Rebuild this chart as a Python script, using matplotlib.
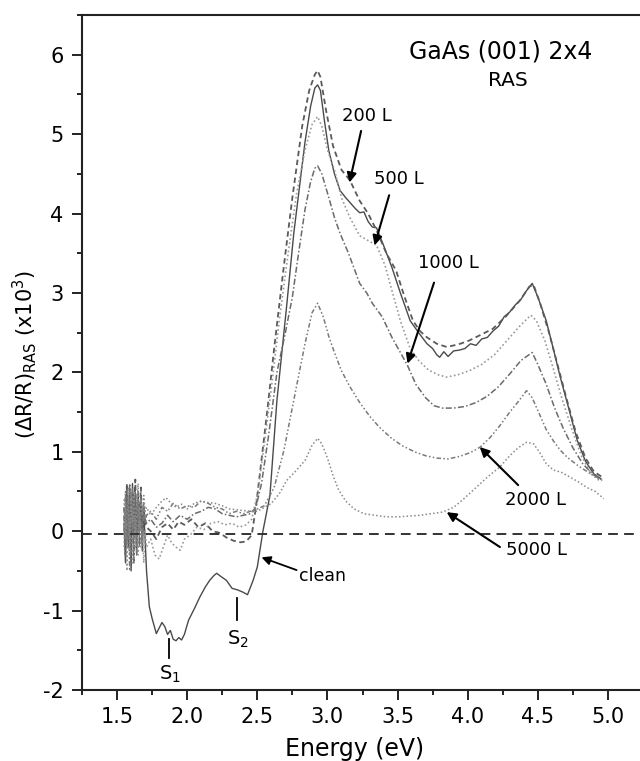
import matplotlib
matplotlib.use("Agg")
import matplotlib.pyplot as plt
from matplotlib.ticker import MultipleLocator, FormatStrFormatter

plt.rcParams['font.family'] = ['DejaVu Sans']
plt.rcParams['mathtext.default'] = 'regular'
plt.rcParams['axes.unicode_minus'] = False

# ---------------- data ----------------
noise_e = [1.55, 1.56, 1.57, 1.58, 1.59, 1.60, 1.61, 1.62, 1.63, 1.64,
           1.65, 1.66, 1.67, 1.68, 1.69, 1.70, 1.71]

clean_e = noise_e + [1.73, 1.75, 1.78, 1.80, 1.82, 1.84, 1.86, 1.88, 1.90, 1.92,
                     1.94, 1.96, 1.98, 2.01, 2.05, 2.09, 2.13, 2.16, 2.19, 2.21,
                     2.24, 2.28, 2.32, 2.36, 2.40, 2.43, 2.47, 2.50, 2.54, 2.59,
                     2.64, 2.71, 2.76, 2.84, 2.88, 2.91, 2.93, 2.95, 2.98, 3.01,
                     3.05, 3.09, 3.13, 3.17, 3.20, 3.23, 3.26, 3.29, 3.32, 3.35,
                     3.40, 3.46, 3.52, 3.59, 3.65, 3.71, 3.75, 3.78, 3.80, 3.83,
                     3.86, 3.90, 3.94, 3.98, 4.02, 4.06, 4.10, 4.14, 4.18, 4.22,
                     4.26, 4.30, 4.34, 4.38, 4.42, 4.46, 4.50, 4.56, 4.61, 4.66,
                     4.72, 4.78, 4.84, 4.90, 4.95]
clean_v = [0.1, -0.4, 0.5, -0.2, 0.35, -0.5, 0.6, 0.0, 0.45, -0.3,
           0.5, 0.05, 0.35, -0.25, 0.25, -0.1, -0.5,
           -0.95, -1.1, -1.29, -1.22, -1.15, -1.2, -1.3, -1.25, -1.36, -1.38,
           -1.34, -1.37, -1.3, -1.12, -0.98, -0.83, -0.7, -0.62, -0.56, -0.53,
           -0.57, -0.62, -0.72, -0.74, -0.77, -0.8, -0.62, -0.45, 0.0, 0.45,
           1.65, 2.85, 3.75, 4.9, 5.35, 5.58, 5.62, 5.55, 5.15, 4.79,
           4.5, 4.29, 4.2, 4.12, 4.06, 4.01, 4.02, 3.9, 3.83, 3.82,
           3.6, 3.32, 3.0, 2.65, 2.5, 2.36, 2.3, 2.22, 2.19, 2.26,
           2.2, 2.27, 2.28, 2.3, 2.36, 2.34, 2.42, 2.44, 2.52, 2.58,
           2.7, 2.76, 2.85, 2.92, 3.03, 3.12, 2.95, 2.65, 2.3, 1.94,
           1.55, 1.15, 0.88, 0.72, 0.66]

l200_e = noise_e + [1.74, 1.78, 1.82, 1.86, 1.90, 1.94, 1.98, 2.03, 2.08, 2.13,
                    2.18, 2.23, 2.28, 2.33, 2.38, 2.42, 2.46, 2.49, 2.52, 2.57,
                    2.62, 2.69, 2.75, 2.82, 2.87, 2.91, 2.93, 2.95, 2.99, 3.04,
                    3.10, 3.16, 3.23, 3.29, 3.35, 3.42, 3.49, 3.55, 3.61, 3.66,
                    3.71, 3.78, 3.85, 3.93, 4.01, 4.09, 4.18, 4.27, 4.37, 4.44,
                    4.47, 4.52, 4.58, 4.64, 4.70, 4.77, 4.84, 4.90, 4.96]
l200_v = [0.3, -0.1, 0.6, 0.1, 0.45, -0.3, 0.5, 0.2, 0.65, -0.1,
          0.4, 0.15, 0.55, 0.0, 0.3, 0.1, 0.05,
          0.0, -0.1, 0.05, 0.1, 0.02, 0.12, 0.08, 0.15, 0.05, 0.1,
          0.0, -0.02, -0.08, -0.12, -0.14, -0.13, -0.05, 0.3, 0.75, 1.5,
          2.3, 3.35, 4.2, 5.1, 5.55, 5.75, 5.8, 5.72, 5.3, 4.85,
          4.55, 4.42, 4.16, 4.0, 3.79, 3.5, 3.28, 2.95, 2.65, 2.52,
          2.44, 2.36, 2.32, 2.35, 2.4, 2.47, 2.55, 2.7, 2.9, 3.08,
          3.1, 2.85, 2.5, 2.1, 1.7, 1.25, 0.92, 0.75, 0.68]

l500_e = noise_e + [1.74, 1.77, 1.80, 1.83, 1.86, 1.89, 1.92, 1.95, 1.98, 2.02,
                    2.07, 2.12, 2.17, 2.22, 2.27, 2.32, 2.37, 2.42, 2.46, 2.50,
                    2.55, 2.60, 2.66, 2.72, 2.78, 2.84, 2.89, 2.93, 2.96, 3.00,
                    3.05, 3.10, 3.16, 3.23, 3.29, 3.35, 3.41, 3.46, 3.52, 3.59,
                    3.65, 3.72, 3.79, 3.85, 3.93, 4.01, 4.10, 4.19, 4.28, 4.37,
                    4.45, 4.49, 4.55, 4.61, 4.67, 4.74, 4.81, 4.88, 4.95]
l500_v = [-0.2, 0.4, -0.5, 0.3, -0.1, 0.5, -0.4, 0.2, 0.0, 0.45,
          -0.3, 0.3, -0.2, 0.1, -0.4, 0.0, -0.2,
          -0.1, -0.3, -0.35, -0.2, -0.05, -0.15, -0.2, -0.24, -0.1, -0.05,
          0.05, 0.02, 0.1, 0.12, 0.08, 0.1, 0.05, 0.08, 0.15, 0.45,
          1.1, 1.8, 2.7, 3.5, 4.25, 4.8, 5.12, 5.22, 5.1, 4.8,
          4.55, 4.2, 3.95, 3.72, 3.66, 3.6, 3.35, 3.03, 2.65, 2.3,
          2.15, 2.03, 1.97, 1.94, 1.97, 2.02, 2.1, 2.22, 2.4, 2.58,
          2.72, 2.65, 2.4, 2.05, 1.68, 1.3, 0.95, 0.72, 0.62]

l1000_e = noise_e + [1.74, 1.78, 1.82, 1.86, 1.90, 1.95, 2.00, 2.05, 2.10, 2.15,
                     2.20, 2.25, 2.30, 2.35, 2.40, 2.45, 2.49, 2.53, 2.58, 2.64,
                     2.70, 2.75, 2.79, 2.84, 2.88, 2.91, 2.93, 2.96, 3.01, 3.05,
                     3.09, 3.15, 3.23, 3.28, 3.32, 3.39, 3.46, 3.52, 3.57, 3.63,
                     3.70, 3.76, 3.82, 3.90, 3.98, 4.06, 4.14, 4.22, 4.30, 4.38,
                     4.46, 4.50, 4.56, 4.62, 4.68, 4.75, 4.82, 4.89, 4.95]
l1000_v = [0.2, -0.3, 0.4, -0.1, 0.6, 0.0, 0.3, -0.4, 0.5, 0.1,
           0.35, -0.2, 0.45, 0.05, 0.3, 0.15, 0.1,
           0.15, 0.05, 0.1, 0.2, 0.12, 0.2, 0.15, 0.22, 0.25, 0.3,
           0.28, 0.22, 0.2, 0.18, 0.2, 0.22, 0.3, 0.6, 1.2, 2.0,
           2.5, 2.95, 3.45, 4.05, 4.4, 4.57, 4.6, 4.5, 4.2, 3.95,
           3.75, 3.5, 3.12, 3.0, 2.87, 2.7, 2.44, 2.25, 2.09, 1.85,
           1.68, 1.58, 1.55, 1.55, 1.57, 1.62, 1.7, 1.82, 1.98, 2.15,
           2.25, 2.1, 1.85, 1.55, 1.3, 1.05, 0.85, 0.72, 0.65]

l2000_e = noise_e + [1.74, 1.78, 1.82, 1.86, 1.90, 1.95, 2.00, 2.05, 2.10, 2.15,
                     2.20, 2.25, 2.30, 2.35, 2.40, 2.45, 2.50, 2.55, 2.62, 2.69,
                     2.76, 2.84, 2.89, 2.93, 2.97, 3.01, 3.05, 3.10, 3.16, 3.23,
                     3.30, 3.37, 3.45, 3.53, 3.62, 3.70, 3.78, 3.86, 3.94, 4.02,
                     4.09, 4.16, 4.23, 4.30, 4.36, 4.42, 4.46, 4.51, 4.56, 4.61,
                     4.66, 4.71, 4.79, 4.87, 4.96]
l2000_v = [0.0, 0.5, -0.2, 0.3, -0.5, 0.2, 0.55, -0.1, 0.3, -0.3,
           0.4, 0.0, 0.2, -0.15, 0.35, 0.1, 0.2,
           0.25, 0.15, 0.3, 0.25, 0.35, 0.28, 0.32, 0.3, 0.38, 0.35,
           0.3, 0.28, 0.22, 0.25, 0.22, 0.25, 0.28, 0.32, 0.55, 1.02,
           1.65, 2.36, 2.75, 2.87, 2.7, 2.45, 2.25, 2.02, 1.82, 1.62,
           1.45, 1.31, 1.18, 1.08, 1.0, 0.95, 0.92, 0.91, 0.94, 0.99,
           1.06, 1.18, 1.33, 1.5, 1.63, 1.77, 1.68, 1.48, 1.28, 1.14,
           1.02, 0.93, 0.82, 0.73, 0.64]

l5000_e = noise_e + [1.74, 1.78, 1.82, 1.85, 1.88, 1.92, 1.96, 2.00, 2.05, 2.10,
                     2.15, 2.20, 2.25, 2.30, 2.35, 2.40, 2.45, 2.50, 2.55, 2.60,
                     2.66, 2.71, 2.77, 2.84, 2.89, 2.93, 2.96, 3.00, 3.04, 3.08,
                     3.13, 3.19, 3.26, 3.34, 3.42, 3.50, 3.58, 3.66, 3.74, 3.82,
                     3.90, 3.98, 4.06, 4.14, 4.23, 4.30, 4.36, 4.42, 4.47, 4.51,
                     4.56, 4.61, 4.67, 4.73, 4.79, 4.85, 4.91, 4.97]
l5000_v = [0.4, -0.1, 0.2, 0.55, -0.3, 0.4, 0.1, 0.5, -0.2, 0.3,
           0.6, 0.0, 0.4, 0.2, 0.45, 0.25, 0.3,
           0.2, 0.3, 0.38, 0.42, 0.36, 0.3, 0.34, 0.28, 0.35, 0.38,
           0.36, 0.35, 0.32, 0.28, 0.27, 0.26, 0.25, 0.25, 0.3, 0.35,
           0.48, 0.64, 0.75, 0.89, 1.08, 1.17, 1.1, 0.92, 0.7, 0.52,
           0.38, 0.28, 0.22, 0.2, 0.18, 0.18, 0.19, 0.2, 0.22, 0.24,
           0.3, 0.42, 0.55, 0.68, 0.81, 0.95, 1.05, 1.12, 1.1, 1.0,
           0.85, 0.77, 0.74, 0.68, 0.62, 0.55, 0.5, 0.41]

zero_level = -0.03

# labels: (text, text x, text y, arrow tail x, tail y, head x, head y)
arrow_labels = ['200 L', '500 L', '1000 L', '2000 L', '5000 L']
arrow_text_xy = [(3.28, 5.23), (3.51, 4.44), (3.86, 3.38), (4.48, 0.39), (4.49, -0.24)]
arrow_tail_xy = [(3.24, 5.04), (3.44, 4.23), (3.76, 3.13), (4.36, 0.58), (4.23, -0.20)]
arrow_head_xy = [(3.157, 4.39), (3.336, 3.60), (3.571, 2.11), (4.086, 1.06), (3.85, 0.24)]

# ---------------- figure ----------------
fig = plt.figure(figsize=(6.40, 7.61), dpi=100)
ax = fig.add_axes([82/640, 71/761, 561/640, 675/761])

ax.plot(clean_e, clean_v, color='#4a4a4a', lw=1.0, ls='-')
ax.plot(l200_e, l200_v, color='#5a5a5a', lw=1.3, ls=(0, (3, 2)))
ax.plot(l500_e, l500_v, color='#9a9a9a', lw=1.2, ls=(0, (1, 1.5)))
ax.plot(l1000_e, l1000_v, color='#6a6a6a', lw=1.1, ls=(0, (4, 1.5, 1, 1.5)))
ax.plot(l2000_e, l2000_v, color='#7a7a7a', lw=1.1, ls=(0, (3, 1.5, 1, 1.5, 1, 1.5)))
ax.plot(l5000_e, l5000_v, color='#8a8a8a', lw=1.1, ls=(0, (1, 1.5)))

ax.axhline(zero_level, color='#333333', lw=1.4, ls=(0, (5, 3.2)))

ax.set_xlim(1.25, 5.25)
ax.set_ylim(-2, 6.5)
ax.xaxis.set_major_locator(MultipleLocator(0.5))
ax.xaxis.set_minor_locator(MultipleLocator(0.25))
ax.xaxis.set_major_formatter(FormatStrFormatter('%.1f'))
ax.yaxis.set_major_locator(MultipleLocator(1))
ax.yaxis.set_minor_locator(MultipleLocator(0.5))
ax.tick_params(which='major', direction='out', length=7.2, width=1.4,
               labelsize=15, color='#222222', pad=5)
ax.tick_params(which='minor', direction='out', length=3.6, width=1.4, color='#222222')
ax.tick_params(axis='y', which='major', pad=6)
ax.spines['right'].set_visible(False)
for s in ['left', 'bottom', 'top']:
    ax.spines[s].set_linewidth(1.5)
    ax.spines[s].set_color('#222222')

fig.text(355/640, 1 - 749/761, 'Energy (eV)', fontsize=17, ha='center', va='center')
fig.text(25/640, 1 - 355/761, r'$(\Delta R/R)_{RAS}\ (x10^{3})$', fontsize=15,
         rotation=90, ha='center', va='center')

ax.text(4.236, 6.04, 'GaAs (001) 2x4', fontsize=17, ha='center', va='center')
ax.text(4.286, 5.67, 'RAS', fontsize=14.5, ha='center', va='center')

for lab, txy, tl, hd in zip(arrow_labels, arrow_text_xy, arrow_tail_xy, arrow_head_xy):
    ax.text(txy[0], txy[1], lab, fontsize=13, ha='center', va='center')
    ax.annotate('', xy=hd, xytext=tl,
                arrowprops=dict(arrowstyle='-|>', color='black', lw=1.5,
                                mutation_scale=14, shrinkA=0, shrinkB=0))

ax.text(2.80, -0.56, 'clean', fontsize=12.5, ha='left', va='center')
ax.annotate('', xy=(2.53, -0.33), xytext=(2.78, -0.49),
            arrowprops=dict(arrowstyle='-|>', color='black', lw=1.3,
                            mutation_scale=13, shrinkA=0, shrinkB=0))

ax.plot([1.87, 1.87], [-1.36, -1.60], color='black', lw=1.3)
ax.text(1.875, -1.80, r'S$_1$', fontsize=14, ha='center', va='center')
ax.plot([2.357, 2.357], [-0.84, -1.12], color='black', lw=1.3)
ax.text(2.36, -1.36, r'S$_2$', fontsize=14, ha='center', va='center')

fig.savefig('out.png', dpi=100)
